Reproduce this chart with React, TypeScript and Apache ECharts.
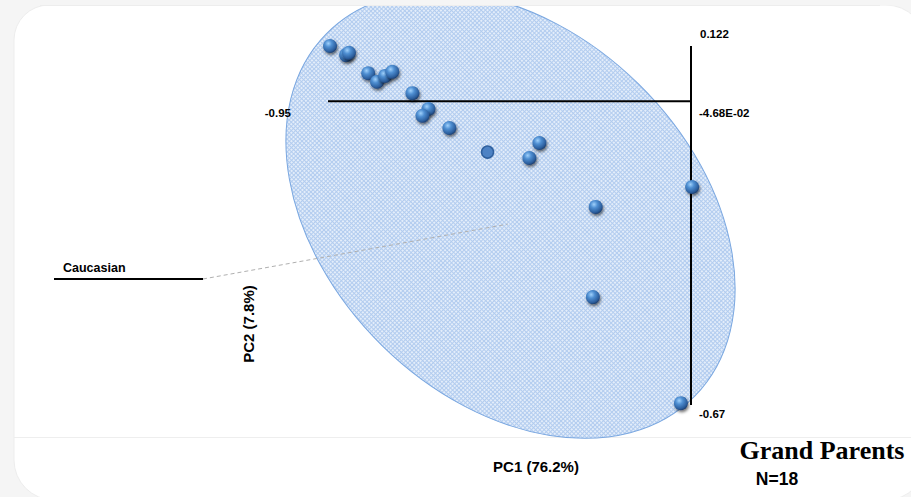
import React, { useEffect, useRef } from "react";
import * as echarts from "echarts";

// PCA scores (PC1, PC2) for the 18 samples
const pc1Scores = [
  -0.945, -0.905, -0.898, -0.85, -0.828, -0.808, -0.79, -0.74, -0.7, -0.715,
  -0.648, -0.553, -0.424, -0.449, -0.044, -0.284, -0.291, -0.072,
];
const pc2Scores = [
  0.122, 0.102, 0.107, 0.062, 0.043, 0.056, 0.065, 0.018, -0.017, -0.032,
  -0.059, -0.112, -0.092, -0.125, -0.189, -0.233, -0.432, -0.666,
];
const flatPointIndex = 11;

// axis extents and labels
const pc1Range = [-0.95, -0.0468];
const pc2Range = [-0.67, 0.122];
const pc1AxisAtPc2 = 0;
const axisLabels = { xMin: "-0.95", yMax: "0.122", xMax: "-4.68E-02", yMin: "-0.67" };

// group ellipse (centre and half-axis vectors in score units)
const ellipseCentre = [-0.4959, -0.2508];
const ellipseMajor = [0.4583, -0.3997];
const ellipseMinor = [-0.3206, -0.2874];
const labelPointer = [-0.503, -0.271];

const groupName = "Caucasian";
const titleText = "Grand Parents";
const countText = "N=18";
const xTitle = "PC1 (76.2%)";
const yTitle = "PC2 (7.8%)";

const SANS = "'Liberation Sans', Arial, sans-serif";
const SERIF = "'Liberation Serif', 'Times New Roman', serif";

function makePattern() {
  const c = document.createElement("canvas");
  c.width = 3;
  c.height = 3;
  const g = c.getContext("2d")!;
  g.fillStyle = "#e3edfa";
  g.fillRect(0, 0, 3, 3);
  g.fillStyle = "#b2ccef";
  g.fillRect(0, 0, 3, 1);
  g.fillRect(0, 0, 1, 3);
  return c;
}

export default function App() {
  const ref = useRef<HTMLDivElement>(null);

  useEffect(() => {
    document.body.style.margin = "0";
    if (!ref.current) return;
    const chart = echarts.init(ref.current, undefined, { renderer: "svg" });
    const pattern = makePattern();

    const sphere = {
      type: "radial",
      x: 0.38,
      y: 0.32,
      r: 0.72,
      colorStops: [
        { offset: 0, color: "#9fd0fb" },
        { offset: 0.35, color: "#4f8fd2" },
        { offset: 0.8, color: "#2b5d9c" },
        { offset: 1, color: "#1c3a66" },
      ],
    };

    const points = pc1Scores.map((x, i) => {
      if (i === flatPointIndex) {
        return {
          value: [x, pc2Scores[i]],
          symbolSize: 12,
          itemStyle: {
            color: "#4d82c4",
            borderColor: "#2f609e",
            borderWidth: 1.5,
            shadowBlur: 0,
            shadowOffsetX: 0,
            shadowOffsetY: 0,
          },
        };
      }
      return { value: [x, pc2Scores[i]] };
    });

    const textBase = { fontFamily: SANS, fontWeight: "bold", fill: "#000" };

    chart.setOption({
      animation: false,
      backgroundColor: "transparent",
      grid: { left: 328, right: 220, top: 46, bottom: 92 },
      xAxis: { type: "value", min: pc1Range[0], max: pc1Range[1], show: false },
      yAxis: { type: "value", min: pc2Range[0], max: pc2Range[1], show: false },
      graphic: [
        { type: "rect", z: -20, shape: { x: 0, y: 0, width: 911, height: 497 }, style: { fill: "#f5f5f5" }, silent: true },
        { type: "rect", z: -19, shape: { x: 14, y: 5, width: 912, height: 495, r: [35, 40, 40, 40] }, style: { fill: "#ffffff", stroke: "#ededed", lineWidth: 1 }, silent: true },
        { type: "line", z: -18, shape: { x1: 14, y1: 437.5, x2: 911, y2: 437.5 }, style: { stroke: "#eeeeee", lineWidth: 1 }, silent: true },
        { type: "rect", z: 50, shape: { x: 0, y: 0, width: 911, height: 5.5 }, style: { fill: "#f5f5f5" }, silent: true },
        { type: "line", z: 50, shape: { x1: 40, y1: 5.5, x2: 880, y2: 5.5 }, style: { stroke: "#ededed", lineWidth: 1 }, silent: true },
        { type: "line", z: 100, shape: { x1: 54, y1: 279, x2: 203, y2: 279 }, style: { stroke: "#000", lineWidth: 2 } },
        { type: "text", z: 100, x: 63, y: 268, style: { ...textBase, text: groupName, fontSize: 12.5, align: "left", verticalAlign: "middle" } },
        { type: "text", z: 100, x: 291, y: 113, style: { ...textBase, text: axisLabels.xMin, fontSize: 11.5, align: "right", verticalAlign: "middle" } },
        { type: "text", z: 100, x: 700, y: 33.5, style: { ...textBase, text: axisLabels.yMax, fontSize: 11.5, align: "left", verticalAlign: "middle" } },
        { type: "text", z: 100, x: 699, y: 113, style: { ...textBase, text: axisLabels.xMax, fontSize: 11.5, align: "left", verticalAlign: "middle" } },
        { type: "text", z: 100, x: 699, y: 414, style: { ...textBase, text: axisLabels.yMin, fontSize: 11.5, align: "left", verticalAlign: "middle" } },
        { type: "text", z: 100, x: 536, y: 466, style: { ...textBase, text: xTitle, fontSize: 15, align: "center", verticalAlign: "middle" } },
        { type: "text", z: 100, x: 248, y: 324, rotation: Math.PI / 2, style: { ...textBase, text: yTitle, fontSize: 15, align: "center", verticalAlign: "middle" } },
        { type: "text", z: 100, x: 822, y: 450, style: { fontFamily: SERIF, fontWeight: "bold", fill: "#000", text: titleText, fontSize: 26, align: "center", verticalAlign: "middle" } },
        { type: "text", z: 100, x: 777, y: 479, style: { ...textBase, text: countText, fontSize: 17.5, align: "center", verticalAlign: "middle" } },
      ],
      series: [
        {
          type: "custom",
          z: 1,
          clip: false,
          silent: true,
          data: [ellipseCentre],
          renderItem: (_p: any, api: any) => {
            const c = api.coord(ellipseCentre);
            const p1 = api.coord([ellipseCentre[0] + ellipseMajor[0], ellipseCentre[1] + ellipseMajor[1]]);
            const p2 = api.coord([ellipseCentre[0] + ellipseMinor[0], ellipseCentre[1] + ellipseMinor[1]]);
            const tip = api.coord(labelPointer);
            const rx = Math.hypot(p1[0] - c[0], p1[1] - c[1]);
            const ry = Math.hypot(p2[0] - c[0], p2[1] - c[1]);
            const ang = Math.atan2(p1[1] - c[1], p1[0] - c[0]);
            return {
              type: "group",
              children: [
                {
                  type: "ellipse",
                  x: c[0],
                  y: c[1],
                  rotation: -ang,
                  shape: { cx: 0, cy: 0, rx, ry },
                  style: { fill: { image: pattern, repeat: "repeat" }, stroke: "#7aa7e0", lineWidth: 1 },
                },
                {
                  type: "line",
                  shape: { x1: 203, y1: 279, x2: tip[0], y2: tip[1] },
                  style: { stroke: "#b0b0b0", lineWidth: 1, lineDash: [4, 3] },
                },
              ],
            };
          },
        },
        {
          type: "line",
          z: 3,
          symbol: "none",
          silent: true,
          lineStyle: { color: "#000", width: 2 },
          data: [
            [pc1Range[0], pc1AxisAtPc2],
            [pc1Range[1], pc1AxisAtPc2],
          ],
        },
        {
          type: "line",
          z: 3,
          symbol: "none",
          silent: true,
          lineStyle: { color: "#000", width: 2 },
          data: [
            [pc1Range[1], pc2Range[1]],
            [pc1Range[1], pc2Range[0]],
          ],
        },
        {
          type: "scatter",
          z: 5,
          clip: false,
          symbolSize: 14,
          itemStyle: {
            color: sphere,
            opacity: 1,
            shadowColor: "rgba(0,0,0,0.55)",
            shadowBlur: 3,
            shadowOffsetX: 1,
            shadowOffsetY: 2,
          },
          data: points,
        },
      ],
    });
    return () => chart.dispose();
  }, []);

  return <div ref={ref} style={{ width: 911, height: 497 }} />;
}
